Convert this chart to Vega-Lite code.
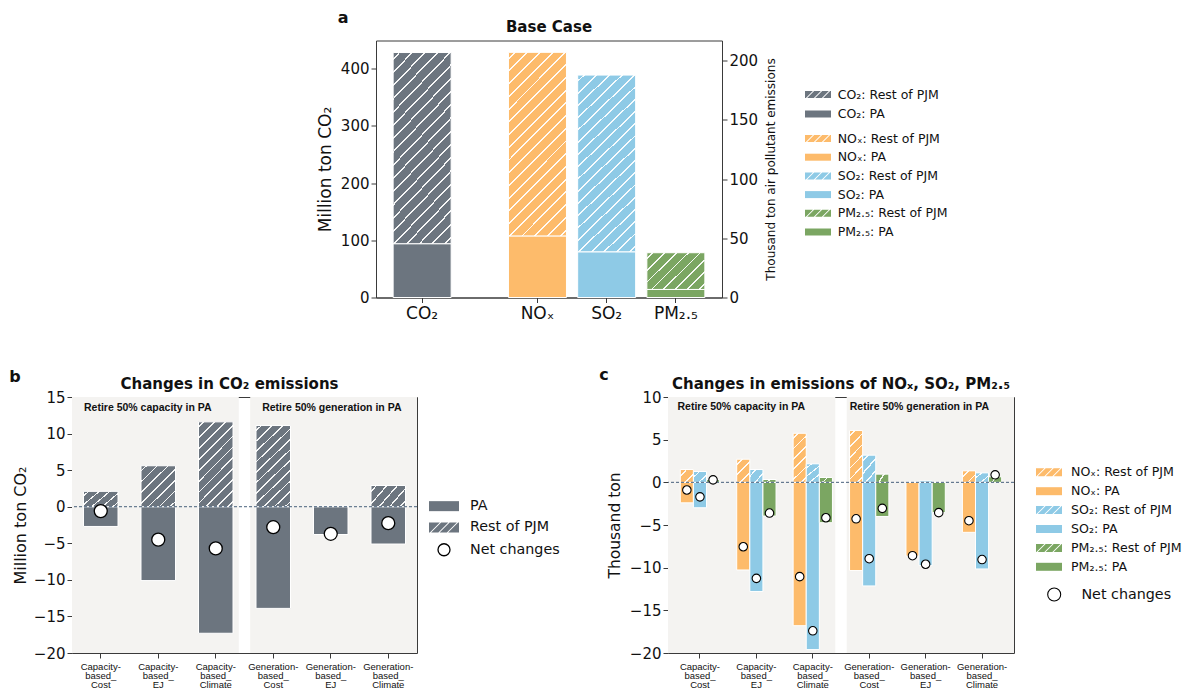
{
"$schema": "https://vega.github.io/schema/vega-lite/v6.json",
"background": "white",
"padding": {"left": 9, "top": 8.5, "right": 0, "bottom": 0},
"config": {
  "font": "DejaVu Sans",
  "view": {"stroke": null},
  "axis": {"grid": false, "domainColor": "#3a3a3a", "domainWidth": 1, "tickColor": "#3a3a3a", "tickWidth": 1, "tickSize": 5, "labelColor": "#111111", "titleColor": "#111111", "labelFont": "DejaVu Sans", "titleFont": "DejaVu Sans", "titleFontWeight": "normal", "zindex": 1, "labelOverlap": false},
  "legend": {"labelColor": "#111111", "labelFont": "DejaVu Sans", "padding": 0},
  "title": {"font": "DejaVu Sans", "fontWeight": "bold", "color": "#111111", "frame": "group"}
},
"spacing": 44.5,
"bounds": "full",
"resolve": {"scale": {"fill": "independent", "shape": "independent", "stroke": "independent"}},
"vconcat": [
 {"hconcat": [
  {"width": 304, "height": 257, "view": {"fill": "white", "stroke": null}, "data": {"values": []}, "mark": "point"},
  {
   "width": 346, "height": 257,
   "view": {"stroke": "#3a3a3a", "strokeWidth": 1},
   "title": {"text": "Base Case", "fontSize": 15, "offset": -25},
   "resolve": {"scale": {"y": "independent", "fill": "independent", "shape": "independent"}},
   "layer": [
    {
     "data": {"values": [
      {"cat": "CO₂", "part": "PA", "key": "CO₂: PA", "value": 94},
      {"cat": "CO₂", "part": "Rest of PJM", "key": "CO₂: Rest of PJM", "value": 334}
     ]},
     "layer": [
      {"mark": {"type": "bar", "width": 58, "stroke": "white", "strokeWidth": 1},
       "encoding": {
        "x": {"field": "cat", "type": "nominal", "scale": {"type": "band", "domain": ["e1","CO₂","s1","s2","s3","s4","NOₓ","s5","s6","SO₂","s7","s8","PM₂.₅","e2"], "paddingInner": 0, "paddingOuter": 0.5},
              "axis": {"title": null, "values": ["CO₂","NOₓ","SO₂","PM₂.₅"], "labelAngle": 0, "labelFontSize": 17, "labelPadding": 3}},
        "y": {"field": "value", "type": "quantitative", "stack": "zero", "scale": {"domain": [0, 449], "nice": false},
              "axis": {"title": "Million ton CO₂", "titleFontSize": 17, "labelFontSize": 15, "values": [0,100,200,300,400], "titlePadding": 6}},
        "order": {"field": "part", "sort": "ascending"},
        "fill": {"field": "key", "type": "nominal", "scale": {"domain": ["CO₂: Rest of PJM", "CO₂: PA"], "range": ["#6c757f", "#6c757f"]},
                 "legend": {"title": null, "orient": "none", "legendX": 429, "legendY": 47.75, "direction": "vertical", "symbolSize": 100, "symbolOffset": 6.75, "labelOffset": 13.5, "labelFontSize": 12.5, "rowPadding": 6.5, "symbolStrokeWidth": 0, "symbolOpacity": 1}}
       }},
      {"mark": {"type": "bar", "width": 58},
       "encoding": {
        "x": {"field": "cat", "type": "nominal"},
        "y": {"field": "value", "type": "quantitative", "stack": "zero"},
        "order": {"field": "part", "sort": "ascending"},
        "detail": {"field": "part"},
        "fill": {"condition": {"test": "datum.part === 'PA'", "value": "transparent"},
                 "value": {"gradient": "linear", "x1": 0, "y1": 0, "x2": 0.3793, "y2": 1.1968, "stops": [
{"offset":0.0223,"color":"#fff0"},{"offset":0.0223,"color":"#fffe"},{"offset":0.0303,"color":"#fffe"},{"offset":0.0303,"color":"#fff0"},
{"offset":0.0749,"color":"#fff0"},{"offset":0.0749,"color":"#fffe"},{"offset":0.0829,"color":"#fffe"},{"offset":0.0829,"color":"#fff0"},
{"offset":0.1276,"color":"#fff0"},{"offset":0.1276,"color":"#fffe"},{"offset":0.1356,"color":"#fffe"},{"offset":0.1356,"color":"#fff0"},
{"offset":0.1802,"color":"#fff0"},{"offset":0.1802,"color":"#fffe"},{"offset":0.1882,"color":"#fffe"},{"offset":0.1882,"color":"#fff0"},
{"offset":0.2328,"color":"#fff0"},{"offset":0.2328,"color":"#fffe"},{"offset":0.2408,"color":"#fffe"},{"offset":0.2408,"color":"#fff0"},
{"offset":0.2855,"color":"#fff0"},{"offset":0.2855,"color":"#fffe"},{"offset":0.2935,"color":"#fffe"},{"offset":0.2935,"color":"#fff0"},
{"offset":0.3381,"color":"#fff0"},{"offset":0.3381,"color":"#fffe"},{"offset":0.3461,"color":"#fffe"},{"offset":0.3461,"color":"#fff0"},
{"offset":0.3907,"color":"#fff0"},{"offset":0.3907,"color":"#fffe"},{"offset":0.3987,"color":"#fffe"},{"offset":0.3987,"color":"#fff0"},
{"offset":0.4434,"color":"#fff0"},{"offset":0.4434,"color":"#fffe"},{"offset":0.4514,"color":"#fffe"},{"offset":0.4514,"color":"#fff0"},
{"offset":0.496,"color":"#fff0"},{"offset":0.496,"color":"#fffe"},{"offset":0.504,"color":"#fffe"},{"offset":0.504,"color":"#fff0"},
{"offset":0.5486,"color":"#fff0"},{"offset":0.5486,"color":"#fffe"},{"offset":0.5566,"color":"#fffe"},{"offset":0.5566,"color":"#fff0"},
{"offset":0.6013,"color":"#fff0"},{"offset":0.6013,"color":"#fffe"},{"offset":0.6093,"color":"#fffe"},{"offset":0.6093,"color":"#fff0"},
{"offset":0.6539,"color":"#fff0"},{"offset":0.6539,"color":"#fffe"},{"offset":0.6619,"color":"#fffe"},{"offset":0.6619,"color":"#fff0"},
{"offset":0.7065,"color":"#fff0"},{"offset":0.7065,"color":"#fffe"},{"offset":0.7145,"color":"#fffe"},{"offset":0.7145,"color":"#fff0"},
{"offset":0.7592,"color":"#fff0"},{"offset":0.7592,"color":"#fffe"},{"offset":0.7672,"color":"#fffe"},{"offset":0.7672,"color":"#fff0"},
{"offset":0.8118,"color":"#fff0"},{"offset":0.8118,"color":"#fffe"},{"offset":0.8198,"color":"#fffe"},{"offset":0.8198,"color":"#fff0"},
{"offset":0.8644,"color":"#fff0"},{"offset":0.8644,"color":"#fffe"},{"offset":0.8724,"color":"#fffe"},{"offset":0.8724,"color":"#fff0"},
{"offset":0.9171,"color":"#fff0"},{"offset":0.9171,"color":"#fffe"},{"offset":0.9251,"color":"#fffe"},{"offset":0.9251,"color":"#fff0"},
{"offset":0.9697,"color":"#fff0"},{"offset":0.9697,"color":"#fffe"},{"offset":0.9777,"color":"#fffe"},{"offset":0.9777,"color":"#fff0"}
                 ]}}
       }},
      {"mark": {"type": "point", "opacity": 0, "filled": true},
       "encoding": {
        "x": {"field": "cat", "type": "nominal"},
        "y": {"field": "value", "type": "quantitative"},
        "fill": {"field": "key", "type": "nominal",
                 "legend": {"title": null, "orient": "none", "legendX": 429, "legendY": 47.75, "direction": "vertical", "symbolSize": 100, "symbolOffset": 6.75, "labelOffset": 13.5, "labelFontSize": 12.5, "rowPadding": 6.5, "symbolStrokeWidth": 0, "symbolOpacity": 1}},
        "shape": {"field": "key", "type": "nominal", "scale": {"domain": ["CO₂: Rest of PJM", "CO₂: PA"], "range": ["M-2.6,-0.7L-1.03,-0.7L-2.43,0.7L-2.6,0.7ZM-0.77,-0.7L0.57,-0.7L-0.83,0.7L-2.17,0.7ZM0.83,-0.7L2.17,-0.7L0.77,0.7L-0.57,0.7ZM2.43,-0.7L2.6,-0.7L2.6,0.7L1.03,0.7Z", "M-2.6,-0.7L2.6,-0.7L2.6,0.7L-2.6,0.7Z"]},
                 "legend": {"title": null, "orient": "none", "legendX": 429, "legendY": 47.75, "direction": "vertical", "symbolSize": 100, "symbolOffset": 6.75, "labelOffset": 13.5, "labelFontSize": 12.5, "rowPadding": 6.5, "symbolStrokeWidth": 0, "symbolOpacity": 1}}
       }},
      {"data": {"values": [{"t": "a"}]},
       "mark": {"type": "text", "fontSize": 16, "fontWeight": "bold", "dx": -79, "dy": -23, "color": "#111111", "baseline": "middle", "align": "center"},
       "encoding": {"x": {"datum": "CO₂", "type": "nominal"}, "y": {"datum": 449, "type": "quantitative"}, "text": {"field": "t"}}}
     ]
    },
    {
     "data": {"values": [
      {"cat": "NOₓ", "part": "PA", "key": "NOₓ: PA", "value": 52},
      {"cat": "NOₓ", "part": "Rest of PJM", "key": "NOₓ: Rest of PJM", "value": 155},
      {"cat": "SO₂", "part": "PA", "key": "SO₂: PA", "value": 38.6},
      {"cat": "SO₂", "part": "Rest of PJM", "key": "SO₂: Rest of PJM", "value": 149.2},
      {"cat": "PM₂.₅", "part": "PA", "key": "PM₂.₅: PA", "value": 6.8},
      {"cat": "PM₂.₅", "part": "Rest of PJM", "key": "PM₂.₅: Rest of PJM", "value": 31}
     ]},
     "layer": [
      {"mark": {"type": "bar", "width": 58, "stroke": "white", "strokeWidth": 1},
       "encoding": {
        "x": {"field": "cat", "type": "nominal"},
        "y": {"field": "value", "type": "quantitative", "stack": "zero", "scale": {"domain": [0, 217], "nice": false},
              "axis": {"orient": "right", "title": "Thousand ton air pollutant emissions", "titleFontSize": 12, "titleAngle": 270, "titleBaseline": "top", "labelFontSize": 15, "values": [0,50,100,150,200], "titlePadding": 8}},
        "order": {"field": "part", "sort": "ascending"},
        "fill": {"field": "key", "type": "nominal", "scale": {"domain": ["NOₓ: Rest of PJM","NOₓ: PA","SO₂: Rest of PJM","SO₂: PA","PM₂.₅: Rest of PJM","PM₂.₅: PA"], "range": ["#fdbb6b","#fdbb6b","#8ecae6","#8ecae6","#7ba662","#7ba662"]},
                 "legend": {"title": null, "orient": "none", "legendX": 429, "legendY": 91.75, "direction": "vertical", "symbolSize": 100, "symbolOffset": 6.75, "labelOffset": 13.5, "labelFontSize": 12.5, "rowPadding": 5.7, "symbolStrokeWidth": 0, "symbolOpacity": 1}}
       }},
      {"mark": {"type": "bar", "width": 58},
       "encoding": {
        "x": {"field": "cat", "type": "nominal"},
        "y": {"field": "value", "type": "quantitative", "stack": "zero"},
        "order": {"field": "part", "sort": "ascending"},
        "detail": {"field": "part"},
        "fill": {"condition": [
          {"test": "datum.part === 'PA'", "value": "transparent"},
          {"test": "datum.cat === 'PM₂.₅'", "value": {"gradient": "linear", "x1": 0, "y1": 0, "x2": 1.1642, "y2": 0.7427, "stops": [
{"offset":0.0535,"color":"#fff0"},{"offset":0.0535,"color":"#fffe"},{"offset":0.0715,"color":"#fffe"},{"offset":0.0715,"color":"#fff0"},
{"offset":0.1785,"color":"#fff0"},{"offset":0.1785,"color":"#fffe"},{"offset":0.1965,"color":"#fffe"},{"offset":0.1965,"color":"#fff0"},
{"offset":0.3035,"color":"#fff0"},{"offset":0.3035,"color":"#fffe"},{"offset":0.3215,"color":"#fffe"},{"offset":0.3215,"color":"#fff0"},
{"offset":0.4285,"color":"#fff0"},{"offset":0.4285,"color":"#fffe"},{"offset":0.4465,"color":"#fffe"},{"offset":0.4465,"color":"#fff0"},
{"offset":0.5535,"color":"#fff0"},{"offset":0.5535,"color":"#fffe"},{"offset":0.5715,"color":"#fffe"},{"offset":0.5715,"color":"#fff0"},
{"offset":0.6785,"color":"#fff0"},{"offset":0.6785,"color":"#fffe"},{"offset":0.6965,"color":"#fffe"},{"offset":0.6965,"color":"#fff0"},
{"offset":0.8035,"color":"#fff0"},{"offset":0.8035,"color":"#fffe"},{"offset":0.8215,"color":"#fffe"},{"offset":0.8215,"color":"#fff0"},
{"offset":0.9285,"color":"#fff0"},{"offset":0.9285,"color":"#fffe"},{"offset":0.9465,"color":"#fffe"},{"offset":0.9465,"color":"#fff0"}
          ]}}
         ],
         "value": {"gradient": "linear", "x1": 0, "y1": 0, "x2": 0.3793, "y2": 1.1968, "stops": [
{"offset":0.0223,"color":"#fff0"},{"offset":0.0223,"color":"#fffe"},{"offset":0.0303,"color":"#fffe"},{"offset":0.0303,"color":"#fff0"},
{"offset":0.0749,"color":"#fff0"},{"offset":0.0749,"color":"#fffe"},{"offset":0.0829,"color":"#fffe"},{"offset":0.0829,"color":"#fff0"},
{"offset":0.1276,"color":"#fff0"},{"offset":0.1276,"color":"#fffe"},{"offset":0.1356,"color":"#fffe"},{"offset":0.1356,"color":"#fff0"},
{"offset":0.1802,"color":"#fff0"},{"offset":0.1802,"color":"#fffe"},{"offset":0.1882,"color":"#fffe"},{"offset":0.1882,"color":"#fff0"},
{"offset":0.2328,"color":"#fff0"},{"offset":0.2328,"color":"#fffe"},{"offset":0.2408,"color":"#fffe"},{"offset":0.2408,"color":"#fff0"},
{"offset":0.2855,"color":"#fff0"},{"offset":0.2855,"color":"#fffe"},{"offset":0.2935,"color":"#fffe"},{"offset":0.2935,"color":"#fff0"},
{"offset":0.3381,"color":"#fff0"},{"offset":0.3381,"color":"#fffe"},{"offset":0.3461,"color":"#fffe"},{"offset":0.3461,"color":"#fff0"},
{"offset":0.3907,"color":"#fff0"},{"offset":0.3907,"color":"#fffe"},{"offset":0.3987,"color":"#fffe"},{"offset":0.3987,"color":"#fff0"},
{"offset":0.4434,"color":"#fff0"},{"offset":0.4434,"color":"#fffe"},{"offset":0.4514,"color":"#fffe"},{"offset":0.4514,"color":"#fff0"},
{"offset":0.496,"color":"#fff0"},{"offset":0.496,"color":"#fffe"},{"offset":0.504,"color":"#fffe"},{"offset":0.504,"color":"#fff0"},
{"offset":0.5486,"color":"#fff0"},{"offset":0.5486,"color":"#fffe"},{"offset":0.5566,"color":"#fffe"},{"offset":0.5566,"color":"#fff0"},
{"offset":0.6013,"color":"#fff0"},{"offset":0.6013,"color":"#fffe"},{"offset":0.6093,"color":"#fffe"},{"offset":0.6093,"color":"#fff0"},
{"offset":0.6539,"color":"#fff0"},{"offset":0.6539,"color":"#fffe"},{"offset":0.6619,"color":"#fffe"},{"offset":0.6619,"color":"#fff0"},
{"offset":0.7065,"color":"#fff0"},{"offset":0.7065,"color":"#fffe"},{"offset":0.7145,"color":"#fffe"},{"offset":0.7145,"color":"#fff0"},
{"offset":0.7592,"color":"#fff0"},{"offset":0.7592,"color":"#fffe"},{"offset":0.7672,"color":"#fffe"},{"offset":0.7672,"color":"#fff0"},
{"offset":0.8118,"color":"#fff0"},{"offset":0.8118,"color":"#fffe"},{"offset":0.8198,"color":"#fffe"},{"offset":0.8198,"color":"#fff0"},
{"offset":0.8644,"color":"#fff0"},{"offset":0.8644,"color":"#fffe"},{"offset":0.8724,"color":"#fffe"},{"offset":0.8724,"color":"#fff0"},
{"offset":0.9171,"color":"#fff0"},{"offset":0.9171,"color":"#fffe"},{"offset":0.9251,"color":"#fffe"},{"offset":0.9251,"color":"#fff0"},
{"offset":0.9697,"color":"#fff0"},{"offset":0.9697,"color":"#fffe"},{"offset":0.9777,"color":"#fffe"},{"offset":0.9777,"color":"#fff0"}
         ]}}
       }},
      {"mark": {"type": "point", "opacity": 0, "filled": true},
       "encoding": {
        "x": {"field": "cat", "type": "nominal"},
        "y": {"field": "value", "type": "quantitative"},
        "fill": {"field": "key", "type": "nominal",
                 "legend": {"title": null, "orient": "none", "legendX": 429, "legendY": 91.75, "direction": "vertical", "symbolSize": 100, "symbolOffset": 6.75, "labelOffset": 13.5, "labelFontSize": 12.5, "rowPadding": 5.7, "symbolStrokeWidth": 0, "symbolOpacity": 1}},
        "shape": {"field": "key", "type": "nominal", "scale": {"domain": ["NOₓ: Rest of PJM","NOₓ: PA","SO₂: Rest of PJM","SO₂: PA","PM₂.₅: Rest of PJM","PM₂.₅: PA"], "range": [
            "M-2.6,-0.7L-1.03,-0.7L-2.43,0.7L-2.6,0.7ZM-0.77,-0.7L0.57,-0.7L-0.83,0.7L-2.17,0.7ZM0.83,-0.7L2.17,-0.7L0.77,0.7L-0.57,0.7ZM2.43,-0.7L2.6,-0.7L2.6,0.7L1.03,0.7Z", "M-2.6,-0.7L2.6,-0.7L2.6,0.7L-2.6,0.7Z",
            "M-2.6,-0.7L-1.03,-0.7L-2.43,0.7L-2.6,0.7ZM-0.77,-0.7L0.57,-0.7L-0.83,0.7L-2.17,0.7ZM0.83,-0.7L2.17,-0.7L0.77,0.7L-0.57,0.7ZM2.43,-0.7L2.6,-0.7L2.6,0.7L1.03,0.7Z", "M-2.6,-0.7L2.6,-0.7L2.6,0.7L-2.6,0.7Z",
            "M-2.6,-0.7L-1.03,-0.7L-2.43,0.7L-2.6,0.7ZM-0.77,-0.7L0.57,-0.7L-0.83,0.7L-2.17,0.7ZM0.83,-0.7L2.17,-0.7L0.77,0.7L-0.57,0.7ZM2.43,-0.7L2.6,-0.7L2.6,0.7L1.03,0.7Z", "M-2.6,-0.7L2.6,-0.7L2.6,0.7L-2.6,0.7Z"]},
                 "legend": {"title": null, "orient": "none", "legendX": 429, "legendY": 91.75, "direction": "vertical", "symbolSize": 100, "symbolOffset": 6.75, "labelOffset": 13.5, "labelFontSize": 12.5, "rowPadding": 5.7, "symbolStrokeWidth": 0, "symbolOpacity": 1}}
       }}
     ]
    }
   ]
  }
 ], "spacing": 0, "bounds": "flush", "resolve": {"scale": {"fill": "independent", "shape": "independent", "stroke": "independent"}}},
 {"hconcat": [
  {
   "width": 345, "height": 256,
   "title": {"text": "Changes in CO₂ emissions", "fontSize": 15, "offset": -23, "dx": -15},
   "resolve": {"scale": {"x": "independent", "y": "independent"}},
   "layer": [
    {"data": {"values": [{"grp": "cap", "label": "Retire 50% capacity in PA"}, {"grp": "gen", "label": "Retire 50% generation in PA"}]},
     "layer": [
      {"mark": {"type": "rect", "fill": "#f4f3f1"},
       "encoding": {
        "x": {"field": "grp", "type": "nominal", "scale": {"type": "band", "domain": ["cap", "gen"], "paddingInner": 0.064, "paddingOuter": 0}, "axis": {"orient": "top", "labels": false, "ticks": false, "title": null}},
        "y": {"datum": -20, "type": "quantitative", "scale": {"domain": [-20, 15], "nice": false}, "axis": {"orient": "right", "labels": false, "ticks": false, "title": null}},
        "y2": {"datum": 15}
       }},
      {"mark": {"type": "text", "align": "left", "baseline": "middle", "dx": 12, "dy": 10.5, "font": "Liberation Sans", "fontWeight": "bold", "fontSize": 10.5, "color": "#111111"},
       "encoding": {"x": {"field": "grp", "type": "nominal", "bandPosition": 0}, "y": {"datum": 15, "type": "quantitative"}, "text": {"field": "label"}}}
     ]},
    {"data": {"values": [
      {"scen": "Capacity-based_Cost", "part": "PA", "value": -2.7},
      {"scen": "Capacity-based_EJ", "part": "PA", "value": -10.1},
      {"scen": "Capacity-based_Climate", "part": "PA", "value": -17.3},
      {"scen": "Generation-based_Cost", "part": "PA", "value": -13.9},
      {"scen": "Generation-based_EJ", "part": "PA", "value": -3.8},
      {"scen": "Generation-based_Climate", "part": "PA", "value": -5.1},
      {"scen": "Capacity-based_Cost", "part": "Rest of PJM", "value": 2.1},
      {"scen": "Capacity-based_EJ", "part": "Rest of PJM", "value": 5.6},
      {"scen": "Capacity-based_Climate", "part": "Rest of PJM", "value": 11.6},
      {"scen": "Generation-based_Cost", "part": "Rest of PJM", "value": 11.1},
      {"scen": "Generation-based_EJ", "part": "Rest of PJM", "value": 0.1},
      {"scen": "Generation-based_Climate", "part": "Rest of PJM", "value": 2.9}
     ]},
     "layer": [
      {"mark": {"type": "bar", "stroke": "white", "strokeWidth": 1},
       "encoding": {
        "x": {"field": "scen", "type": "nominal", "scale": {"type": "band", "domain": ["Capacity-based_Cost","Capacity-based_EJ","Capacity-based_Climate","Generation-based_Cost","Generation-based_EJ","Generation-based_Climate"], "paddingInner": 0.4, "paddingOuter": 0.2},
              "axis": {"title": null, "labelAngle": 0, "labelFont": "Liberation Sans", "labelFontSize": 9.5, "labelLineHeight": 9, "labelBaseline": "top", "labelPadding": 3, "labelOverlap": false, "labelExpr": "split(replace(replace(datum.value,'-','-|'),'_','_|'),'|')"}},
        "y": {"field": "value", "type": "quantitative", "stack": null, "scale": {"domain": [-20, 15], "nice": false},
              "axis": {"title": "Million ton CO₂", "titleFontSize": 16, "labelFontSize": 15, "values": [-20,-15,-10,-5,0,5,10,15], "tickCount": 8, "labelOverlap": false, "labelExpr": "replace(datum.label, '-', '−')", "titlePadding": 5}},
        "y2": {"datum": 0},
        "fill": {"field": "part", "type": "nominal", "scale": {"domain": ["PA", "Rest of PJM", "Net changes"], "range": ["#6c757f", "#6c757f", "white"]},
                 "legend": {"title": null, "orient": "none", "legendX": 357, "legendY": 102, "direction": "vertical", "symbolSize": 100, "symbolOffset": 7.85, "labelOffset": 18.8, "labelFontSize": 14.3, "rowPadding": 5.3, "symbolStrokeWidth": 1.3, "symbolOpacity": 1}}
       }},
      {"transform": [{"filter": "datum.part === 'Rest of PJM'"}],
       "mark": {"type": "bar"},
       "encoding": {
        "x": {"field": "scen", "type": "nominal"},
        "y": {"field": "value", "type": "quantitative"},
        "y2": {"datum": 0},
        "fill": {"condition": [
          {"test": "datum.value >= 8", "value": {"gradient": "linear", "x1": 0, "y1": 0, "x2": 0.4945, "y2": 1.2071, "stops": [
{"offset":0.0382,"color":"#fff0"},{"offset":0.0382,"color":"#fffe"},{"offset":0.0528,"color":"#fffe"},{"offset":0.0528,"color":"#fff0"},
{"offset":0.1291,"color":"#fff0"},{"offset":0.1291,"color":"#fffe"},{"offset":0.1437,"color":"#fffe"},{"offset":0.1437,"color":"#fff0"},
{"offset":0.22,"color":"#fff0"},{"offset":0.22,"color":"#fffe"},{"offset":0.2346,"color":"#fffe"},{"offset":0.2346,"color":"#fff0"},
{"offset":0.3109,"color":"#fff0"},{"offset":0.3109,"color":"#fffe"},{"offset":0.3255,"color":"#fffe"},{"offset":0.3255,"color":"#fff0"},
{"offset":0.4018,"color":"#fff0"},{"offset":0.4018,"color":"#fffe"},{"offset":0.4164,"color":"#fffe"},{"offset":0.4164,"color":"#fff0"},
{"offset":0.4927,"color":"#fff0"},{"offset":0.4927,"color":"#fffe"},{"offset":0.5073,"color":"#fffe"},{"offset":0.5073,"color":"#fff0"},
{"offset":0.5836,"color":"#fff0"},{"offset":0.5836,"color":"#fffe"},{"offset":0.5982,"color":"#fffe"},{"offset":0.5982,"color":"#fff0"},
{"offset":0.6745,"color":"#fff0"},{"offset":0.6745,"color":"#fffe"},{"offset":0.6891,"color":"#fffe"},{"offset":0.6891,"color":"#fff0"},
{"offset":0.7654,"color":"#fff0"},{"offset":0.7654,"color":"#fffe"},{"offset":0.78,"color":"#fffe"},{"offset":0.78,"color":"#fff0"},
{"offset":0.8563,"color":"#fff0"},{"offset":0.8563,"color":"#fffe"},{"offset":0.8709,"color":"#fffe"},{"offset":0.8709,"color":"#fff0"},
{"offset":0.9472,"color":"#fff0"},{"offset":0.9472,"color":"#fffe"},{"offset":0.9618,"color":"#fffe"},{"offset":0.9618,"color":"#fff0"}
          ]}},
          {"test": "datum.value >= 4", "value": {"gradient": "linear", "x1": 0, "y1": 0, "x2": 0.8989, "y2": 1.0839, "stops": [
{"offset":0.0604,"color":"#fff0"},{"offset":0.0604,"color":"#fffe"},{"offset":0.0824,"color":"#fffe"},{"offset":0.0824,"color":"#fff0"},
{"offset":0.2033,"color":"#fff0"},{"offset":0.2033,"color":"#fffe"},{"offset":0.2253,"color":"#fffe"},{"offset":0.2253,"color":"#fff0"},
{"offset":0.3461,"color":"#fff0"},{"offset":0.3461,"color":"#fffe"},{"offset":0.3681,"color":"#fffe"},{"offset":0.3681,"color":"#fff0"},
{"offset":0.489,"color":"#fff0"},{"offset":0.489,"color":"#fffe"},{"offset":0.511,"color":"#fffe"},{"offset":0.511,"color":"#fff0"},
{"offset":0.6319,"color":"#fff0"},{"offset":0.6319,"color":"#fffe"},{"offset":0.6539,"color":"#fffe"},{"offset":0.6539,"color":"#fff0"},
{"offset":0.7747,"color":"#fff0"},{"offset":0.7747,"color":"#fffe"},{"offset":0.7967,"color":"#fffe"},{"offset":0.7967,"color":"#fff0"},
{"offset":0.9176,"color":"#fff0"},{"offset":0.9176,"color":"#fffe"},{"offset":0.9396,"color":"#fffe"},{"offset":0.9396,"color":"#fff0"}
          ]}},
          {"test": "datum.value >= 1", "value": {"gradient": "linear", "x1": 0, "y1": 0, "x2": 1.1946, "y2": 0.6324, "stops": [
{"offset":0.084,"color":"#fff0"},{"offset":0.084,"color":"#fffe"},{"offset":0.116,"color":"#fffe"},{"offset":0.116,"color":"#fff0"},
{"offset":0.284,"color":"#fff0"},{"offset":0.284,"color":"#fffe"},{"offset":0.316,"color":"#fffe"},{"offset":0.316,"color":"#fff0"},
{"offset":0.484,"color":"#fff0"},{"offset":0.484,"color":"#fffe"},{"offset":0.516,"color":"#fffe"},{"offset":0.516,"color":"#fff0"},
{"offset":0.684,"color":"#fff0"},{"offset":0.684,"color":"#fffe"},{"offset":0.716,"color":"#fffe"},{"offset":0.716,"color":"#fff0"},
{"offset":0.884,"color":"#fff0"},{"offset":0.884,"color":"#fffe"},{"offset":0.916,"color":"#fffe"},{"offset":0.916,"color":"#fff0"}
          ]}}
         ], "value": "transparent"}
       }},
      {"mark": {"type": "point", "opacity": 0, "filled": true},
       "encoding": {
        "x": {"field": "scen", "type": "nominal"},
        "y": {"field": "value", "type": "quantitative"},
        "fill": {"field": "part", "type": "nominal",
                 "legend": {"title": null, "orient": "none", "legendX": 357, "legendY": 102, "direction": "vertical", "symbolSize": 100, "symbolOffset": 7.85, "labelOffset": 18.8, "labelFontSize": 14.3, "rowPadding": 5.3, "symbolStrokeWidth": 1.3, "symbolOpacity": 1}},
        "shape": {"field": "part", "type": "nominal", "scale": {"domain": ["PA", "Rest of PJM", "Net changes"], "range": ["M-3,-1L3,-1L3,1L-3,1Z", "M-3,-1L-0.83,-1L-2.83,1L-3,1ZM-0.57,-1L0.87,-1L-1.13,1L-2.57,1ZM1.13,-1L2.57,-1L0.57,1L-0.87,1ZM2.83,-1L3,-1L3,1L0.83,1Z", "M-1.2,0A1.2,1.2,0,1,0,1.2,0A1.2,1.2,0,1,0,-1.2,0Z"]},
                 "legend": {"title": null, "orient": "none", "legendX": 357, "legendY": 102, "direction": "vertical", "symbolSize": 100, "symbolOffset": 7.85, "labelOffset": 18.8, "labelFontSize": 14.3, "rowPadding": 5.3, "symbolStrokeWidth": 1.3, "symbolOpacity": 1}},
        "stroke": {"field": "part", "type": "nominal", "scale": {"domain": ["PA", "Rest of PJM", "Net changes"], "range": ["transparent", "transparent", "black"]},
                 "legend": {"title": null, "orient": "none", "legendX": 357, "legendY": 102, "direction": "vertical", "symbolSize": 100, "symbolOffset": 7.85, "labelOffset": 18.8, "labelFontSize": 14.3, "rowPadding": 5.3, "symbolStrokeWidth": 1.3, "symbolOpacity": 1}}
       }},
      {"data": {"values": [{}]},
       "mark": {"type": "rule", "color": "#34506e", "strokeDash": [3, 2], "strokeWidth": 0.9},
       "encoding": {"y": {"datum": 0, "type": "quantitative"}}},
      {"data": {"values": [
        {"scen": "Capacity-based_Cost", "net": -0.6},
        {"scen": "Capacity-based_EJ", "net": -4.5},
        {"scen": "Capacity-based_Climate", "net": -5.7},
        {"scen": "Generation-based_Cost", "net": -2.8},
        {"scen": "Generation-based_EJ", "net": -3.7},
        {"scen": "Generation-based_Climate", "net": -2.25}
       ]},
       "mark": {"type": "point", "filled": true, "shape": "circle", "size": 169, "fill": "white", "stroke": "black", "strokeWidth": 1.3, "opacity": 1},
       "encoding": {"x": {"field": "scen", "type": "nominal"}, "y": {"field": "net", "type": "quantitative"}}},
      {"data": {"values": [{"t": "b"}]},
       "mark": {"type": "text", "fontSize": 16, "fontWeight": "bold", "dx": -85.75, "dy": -20, "color": "#111111", "baseline": "middle", "align": "center"},
       "encoding": {"x": {"datum": "Capacity-based_Cost", "type": "nominal"}, "y": {"datum": 15, "type": "quantitative"}, "text": {"field": "t"}}}
     ]}
   ]
  },
  {
   "width": 346, "height": 256,
   "title": {"text": "Changes in emissions of NOₓ, SO₂, PM₂.₅", "fontSize": 15, "offset": -24.5},
   "resolve": {"scale": {"x": "independent", "y": "independent"}},
   "layer": [
    {"data": {"values": [{"grp": "cap", "label": "Retire 50% capacity in PA"}, {"grp": "gen", "label": "Retire 50% generation in PA"}]},
     "layer": [
      {"mark": {"type": "rect", "fill": "#f4f3f1"},
       "encoding": {
        "x": {"field": "grp", "type": "nominal", "scale": {"type": "band", "domain": ["cap", "gen"], "paddingInner": 0.064, "paddingOuter": 0}, "axis": {"orient": "top", "labels": false, "ticks": false, "title": null}},
        "y": {"datum": -20, "type": "quantitative", "scale": {"domain": [-20, 10], "nice": false}, "axis": {"orient": "right", "labels": false, "ticks": false, "title": null}},
        "y2": {"datum": 10}
       }},
      {"transform": [{"filter": "datum.grp === 'cap'"}],
       "mark": {"type": "text", "align": "left", "baseline": "middle", "dx": 9.5, "dy": 9.5, "font": "Liberation Sans", "fontWeight": "bold", "fontSize": 10.5, "color": "#111111"},
       "encoding": {"x": {"field": "grp", "type": "nominal", "bandPosition": 0}, "y": {"datum": 10, "type": "quantitative"}, "text": {"field": "label"}}},
      {"transform": [{"filter": "datum.grp === 'gen'"}],
       "mark": {"type": "text", "align": "left", "baseline": "middle", "dx": 3, "dy": 9.5, "font": "Liberation Sans", "fontWeight": "bold", "fontSize": 10.5, "color": "#111111"},
       "encoding": {"x": {"field": "grp", "type": "nominal", "bandPosition": 0}, "y": {"datum": 10, "type": "quantitative"}, "text": {"field": "label"}}}
     ]},
    {"data": {"values": [
      {"scen": "Capacity-based_Cost", "pol": "NOx", "part": "PA", "key": "NOₓ: PA", "value": -2.4},
      {"scen": "Capacity-based_Cost", "pol": "SO2", "part": "PA", "key": "SO₂: PA", "value": -2.98},
      {"scen": "Capacity-based_Cost", "pol": "PM", "part": "PA", "key": "PM₂.₅: PA", "value": -0.03},
      {"scen": "Capacity-based_EJ", "pol": "NOx", "part": "PA", "key": "NOₓ: PA", "value": -10.27},
      {"scen": "Capacity-based_EJ", "pol": "SO2", "part": "PA", "key": "SO₂: PA", "value": -12.8},
      {"scen": "Capacity-based_EJ", "pol": "PM", "part": "PA", "key": "PM₂.₅: PA", "value": -3.95},
      {"scen": "Capacity-based_Climate", "pol": "NOx", "part": "PA", "key": "NOₓ: PA", "value": -16.8},
      {"scen": "Capacity-based_Climate", "pol": "SO2", "part": "PA", "key": "SO₂: PA", "value": -19.6},
      {"scen": "Capacity-based_Climate", "pol": "PM", "part": "PA", "key": "PM₂.₅: PA", "value": -4.73},
      {"scen": "Generation-based_Cost", "pol": "NOx", "part": "PA", "key": "NOₓ: PA", "value": -10.34},
      {"scen": "Generation-based_Cost", "pol": "SO2", "part": "PA", "key": "SO₂: PA", "value": -12.14},
      {"scen": "Generation-based_Cost", "pol": "PM", "part": "PA", "key": "PM₂.₅: PA", "value": -4.0},
      {"scen": "Generation-based_EJ", "pol": "NOx", "part": "PA", "key": "NOₓ: PA", "value": -8.63},
      {"scen": "Generation-based_EJ", "pol": "SO2", "part": "PA", "key": "SO₂: PA", "value": -9.76},
      {"scen": "Generation-based_EJ", "pol": "PM", "part": "PA", "key": "PM₂.₅: PA", "value": -3.55},
      {"scen": "Generation-based_Climate", "pol": "NOx", "part": "PA", "key": "NOₓ: PA", "value": -5.86},
      {"scen": "Generation-based_Climate", "pol": "SO2", "part": "PA", "key": "SO₂: PA", "value": -10.15},
      {"scen": "Generation-based_Climate", "pol": "PM", "part": "PA", "key": "PM₂.₅: PA", "value": 0.23},
      {"scen": "Capacity-based_Cost", "pol": "NOx", "part": "Rest of PJM", "key": "NOₓ: Rest of PJM", "value": 1.5},
      {"scen": "Capacity-based_Cost", "pol": "SO2", "part": "Rest of PJM", "key": "SO₂: Rest of PJM", "value": 1.27},
      {"scen": "Capacity-based_Cost", "pol": "PM", "part": "Rest of PJM", "key": "PM₂.₅: Rest of PJM", "value": 0.32},
      {"scen": "Capacity-based_EJ", "pol": "NOx", "part": "Rest of PJM", "key": "NOₓ: Rest of PJM", "value": 2.71},
      {"scen": "Capacity-based_EJ", "pol": "SO2", "part": "Rest of PJM", "key": "SO₂: Rest of PJM", "value": 1.5},
      {"scen": "Capacity-based_EJ", "pol": "PM", "part": "Rest of PJM", "key": "PM₂.₅: Rest of PJM", "value": 0.33},
      {"scen": "Capacity-based_Climate", "pol": "NOx", "part": "Rest of PJM", "key": "NOₓ: Rest of PJM", "value": 5.75},
      {"scen": "Capacity-based_Climate", "pol": "SO2", "part": "Rest of PJM", "key": "SO₂: Rest of PJM", "value": 2.17},
      {"scen": "Capacity-based_Climate", "pol": "PM", "part": "Rest of PJM", "key": "PM₂.₅: Rest of PJM", "value": 0.57},
      {"scen": "Generation-based_Cost", "pol": "NOx", "part": "Rest of PJM", "key": "NOₓ: Rest of PJM", "value": 6.07},
      {"scen": "Generation-based_Cost", "pol": "SO2", "part": "Rest of PJM", "key": "SO₂: Rest of PJM", "value": 3.18},
      {"scen": "Generation-based_Cost", "pol": "PM", "part": "Rest of PJM", "key": "PM₂.₅: Rest of PJM", "value": 0.96},
      {"scen": "Generation-based_EJ", "pol": "NOx", "part": "Rest of PJM", "key": "NOₓ: Rest of PJM", "value": 0.02},
      {"scen": "Generation-based_EJ", "pol": "SO2", "part": "Rest of PJM", "key": "SO₂: Rest of PJM", "value": 0.18},
      {"scen": "Generation-based_EJ", "pol": "PM", "part": "Rest of PJM", "key": "PM₂.₅: Rest of PJM", "value": 0.02},
      {"scen": "Generation-based_Climate", "pol": "NOx", "part": "Rest of PJM", "key": "NOₓ: Rest of PJM", "value": 1.35},
      {"scen": "Generation-based_Climate", "pol": "SO2", "part": "Rest of PJM", "key": "SO₂: Rest of PJM", "value": 1.11},
      {"scen": "Generation-based_Climate", "pol": "PM", "part": "Rest of PJM", "key": "PM₂.₅: Rest of PJM", "value": 0.65}
     ]},
     "layer": [
      {"mark": {"type": "bar", "stroke": "white", "strokeWidth": 1},
       "encoding": {
        "x": {"field": "scen", "type": "nominal", "scale": {"type": "band", "domain": ["Capacity-based_Cost","Capacity-based_EJ","Capacity-based_Climate","Generation-based_Cost","Generation-based_EJ","Generation-based_Climate"], "paddingInner": 0.303, "paddingOuter": 0.218},
              "axis": {"title": null, "labelAngle": 0, "labelFont": "Liberation Sans", "labelFontSize": 9.5, "labelLineHeight": 9, "labelBaseline": "top", "labelPadding": 3, "labelOverlap": false, "labelExpr": "split(replace(replace(datum.value,'-','-|'),'_','_|'),'|')"}},
        "xOffset": {"field": "pol", "type": "nominal", "scale": {"domain": ["NOx", "SO2", "PM"], "paddingInner": 0, "paddingOuter": 0}},
        "y": {"field": "value", "type": "quantitative", "stack": null, "scale": {"domain": [-20, 10], "nice": false},
              "axis": {"title": "Thousand ton", "titleFontSize": 15.5, "labelFontSize": 15, "values": [-20,-15,-10,-5,0,5,10], "tickCount": 7, "labelOverlap": false, "labelExpr": "replace(datum.label, '-', '−')", "titlePadding": 7}},
        "y2": {"datum": 0},
        "fill": {"field": "key", "type": "nominal", "scale": {"domain": ["NOₓ: Rest of PJM","NOₓ: PA","SO₂: Rest of PJM","SO₂: PA","PM₂.₅: Rest of PJM","PM₂.₅: PA"], "range": ["#fdbb6b","#fdbb6b","#8ecae6","#8ecae6","#7ba662","#7ba662"]},
                 "legend": {"title": null, "orient": "none", "legendX": 368, "legendY": 69, "direction": "vertical", "symbolSize": 100, "symbolOffset": 6.7, "labelOffset": 15.7, "labelFontSize": 12.6, "rowPadding": 5.9, "symbolStrokeWidth": 0, "symbolOpacity": 1}}
       }},
      {"transform": [{"filter": "datum.part === 'Rest of PJM'"}],
       "mark": {"type": "bar"},
       "encoding": {
        "x": {"field": "scen", "type": "nominal"},
        "xOffset": {"field": "pol", "type": "nominal"},
        "y": {"field": "value", "type": "quantitative"},
        "y2": {"datum": 0},
        "fill": {"condition": [
          {"test": "datum.value >= 4", "value": {"gradient": "linear", "x1": 0, "y1": 0, "x2": 0.3069, "y2": 1.1802, "stops": [
{"offset":0.0695,"color":"#fff0"},{"offset":0.0695,"color":"#fffe"},{"offset":0.0965,"color":"#fffe"},{"offset":0.0965,"color":"#fff0"},
{"offset":0.2365,"color":"#fff0"},{"offset":0.2365,"color":"#fffe"},{"offset":0.2635,"color":"#fffe"},{"offset":0.2635,"color":"#fff0"},
{"offset":0.4035,"color":"#fff0"},{"offset":0.4035,"color":"#fffe"},{"offset":0.4305,"color":"#fffe"},{"offset":0.4305,"color":"#fff0"},
{"offset":0.5695,"color":"#fff0"},{"offset":0.5695,"color":"#fffe"},{"offset":0.5965,"color":"#fffe"},{"offset":0.5965,"color":"#fff0"},
{"offset":0.7365,"color":"#fff0"},{"offset":0.7365,"color":"#fffe"},{"offset":0.7635,"color":"#fffe"},{"offset":0.7635,"color":"#fff0"},
{"offset":0.9035,"color":"#fff0"},{"offset":0.9035,"color":"#fffe"},{"offset":0.9305,"color":"#fffe"},{"offset":0.9305,"color":"#fff0"}
          ]}},
          {"test": "datum.value >= 1.8", "value": {"gradient": "linear", "x1": 0, "y1": 0, "x2": 0.6705, "y2": 1.1862, "stops": [
{"offset":0.121,"color":"#fff0"},{"offset":0.121,"color":"#fffe"},{"offset":0.169,"color":"#fffe"},{"offset":0.169,"color":"#fff0"},
{"offset":0.411,"color":"#fff0"},{"offset":0.411,"color":"#fffe"},{"offset":0.459,"color":"#fffe"},{"offset":0.459,"color":"#fff0"},
{"offset":0.701,"color":"#fff0"},{"offset":0.701,"color":"#fffe"},{"offset":0.749,"color":"#fffe"},{"offset":0.749,"color":"#fff0"}
          ]}},
          {"test": "datum.value >= 1", "value": {"gradient": "linear", "x1": 0, "y1": 0, "x2": 1.0573, "y2": 0.9353, "stops": [
{"offset":0.215,"color":"#fff0"},{"offset":0.215,"color":"#fffe"},{"offset":0.285,"color":"#fffe"},{"offset":0.285,"color":"#fff0"},
{"offset":0.645,"color":"#fff0"},{"offset":0.645,"color":"#fffe"},{"offset":0.715,"color":"#fffe"},{"offset":0.715,"color":"#fff0"}
          ]}},
          {"test": "datum.value >= 0.25", "value": {"gradient": "linear", "x1": 0, "y1": 0, "x2": 1.2062, "y2": 0.4639, "stops": [
{"offset":0.403,"color":"#fff0"},{"offset":0.403,"color":"#fffe"},{"offset":0.497,"color":"#fffe"},{"offset":0.497,"color":"#fff0"}
          ]}}
         ], "value": "transparent"}
       }},
      {"mark": {"type": "point", "opacity": 0, "filled": true},
       "encoding": {
        "x": {"field": "scen", "type": "nominal"},
        "xOffset": {"field": "pol", "type": "nominal"},
        "y": {"field": "value", "type": "quantitative"},
        "fill": {"field": "key", "type": "nominal",
                 "legend": {"title": null, "orient": "none", "legendX": 368, "legendY": 69, "direction": "vertical", "symbolSize": 100, "symbolOffset": 6.7, "labelOffset": 15.7, "labelFontSize": 12.6, "rowPadding": 5.9, "symbolStrokeWidth": 0, "symbolOpacity": 1}},
        "shape": {"field": "key", "type": "nominal", "scale": {"domain": ["NOₓ: Rest of PJM","NOₓ: PA","SO₂: Rest of PJM","SO₂: PA","PM₂.₅: Rest of PJM","PM₂.₅: PA"], "range": [
            "M-2.6,-0.8L-0.93,-0.8L-2.53,0.8L-2.6,0.8ZM-0.67,-0.8L0.67,-0.8L-0.93,0.8L-2.27,0.8ZM0.93,-0.8L2.27,-0.8L0.67,0.8L-0.67,0.8ZM2.53,-0.8L2.6,-0.8L2.6,0.8L0.93,0.8Z", "M-2.6,-0.8L2.6,-0.8L2.6,0.8L-2.6,0.8Z",
            "M-2.6,-0.8L-0.93,-0.8L-2.53,0.8L-2.6,0.8ZM-0.67,-0.8L0.67,-0.8L-0.93,0.8L-2.27,0.8ZM0.93,-0.8L2.27,-0.8L0.67,0.8L-0.67,0.8ZM2.53,-0.8L2.6,-0.8L2.6,0.8L0.93,0.8Z", "M-2.6,-0.8L2.6,-0.8L2.6,0.8L-2.6,0.8Z",
            "M-2.6,-0.8L-0.93,-0.8L-2.53,0.8L-2.6,0.8ZM-0.67,-0.8L0.67,-0.8L-0.93,0.8L-2.27,0.8ZM0.93,-0.8L2.27,-0.8L0.67,0.8L-0.67,0.8ZM2.53,-0.8L2.6,-0.8L2.6,0.8L0.93,0.8Z", "M-2.6,-0.8L2.6,-0.8L2.6,0.8L-2.6,0.8Z"]},
                 "legend": {"title": null, "orient": "none", "legendX": 368, "legendY": 69, "direction": "vertical", "symbolSize": 100, "symbolOffset": 6.7, "labelOffset": 15.7, "labelFontSize": 12.6, "rowPadding": 5.9, "symbolStrokeWidth": 0, "symbolOpacity": 1}}
       }},
      {"data": {"values": [{}]},
       "mark": {"type": "rule", "color": "#34506e", "strokeDash": [3, 2], "strokeWidth": 0.9},
       "encoding": {"y": {"datum": 0, "type": "quantitative"}}},
      {"data": {"values": [
        {"scen": "Capacity-based_Cost", "pol": "NOx", "net": -0.9},
        {"scen": "Capacity-based_Cost", "pol": "SO2", "net": -1.7},
        {"scen": "Capacity-based_Cost", "pol": "PM", "net": 0.29},
        {"scen": "Capacity-based_EJ", "pol": "NOx", "net": -7.55},
        {"scen": "Capacity-based_EJ", "pol": "SO2", "net": -11.25},
        {"scen": "Capacity-based_EJ", "pol": "PM", "net": -3.6},
        {"scen": "Capacity-based_Climate", "pol": "NOx", "net": -11.05},
        {"scen": "Capacity-based_Climate", "pol": "SO2", "net": -17.4},
        {"scen": "Capacity-based_Climate", "pol": "PM", "net": -4.15},
        {"scen": "Generation-based_Cost", "pol": "NOx", "net": -4.27},
        {"scen": "Generation-based_Cost", "pol": "SO2", "net": -8.95},
        {"scen": "Generation-based_Cost", "pol": "PM", "net": -3.05},
        {"scen": "Generation-based_EJ", "pol": "NOx", "net": -8.6},
        {"scen": "Generation-based_EJ", "pol": "SO2", "net": -9.6},
        {"scen": "Generation-based_EJ", "pol": "PM", "net": -3.55},
        {"scen": "Generation-based_Climate", "pol": "NOx", "net": -4.5},
        {"scen": "Generation-based_Climate", "pol": "SO2", "net": -9.05},
        {"scen": "Generation-based_Climate", "pol": "PM", "net": 0.88}
       ]},
       "mark": {"type": "point", "filled": true, "shape": "circle", "size": 72, "fill": "white", "strokeWidth": 1.1, "opacity": 1},
       "encoding": {"x": {"field": "scen", "type": "nominal"}, "xOffset": {"field": "pol", "type": "nominal"}, "y": {"field": "net", "type": "quantitative"},
         "stroke": {"datum": "Net changes", "type": "nominal", "scale": {"domain": ["Net changes"], "range": ["black"]},
                   "legend": {"title": null, "orient": "none", "legendX": 378.7, "legendY": 190, "symbolType": "circle", "symbolSize": 169, "symbolOffset": 0, "labelOffset": 19.7, "labelFontSize": 14.3, "symbolStrokeWidth": 1.1, "symbolFillColor": "white", "symbolOpacity": 1}}}},
      {"data": {"values": [{"t": "c"}]},
       "mark": {"type": "text", "fontSize": 16, "fontWeight": "bold", "dx": -96, "dy": -22, "color": "#111111", "baseline": "middle", "align": "center"},
       "encoding": {"x": {"datum": "Capacity-based_Cost", "type": "nominal"}, "y": {"datum": 10, "type": "quantitative"}, "text": {"field": "t"}}}
     ]}
   ]
  }
 ], "spacing": 251, "bounds": "flush", "resolve": {"scale": {"fill": "independent", "shape": "independent", "stroke": "independent"}}}
]
}
